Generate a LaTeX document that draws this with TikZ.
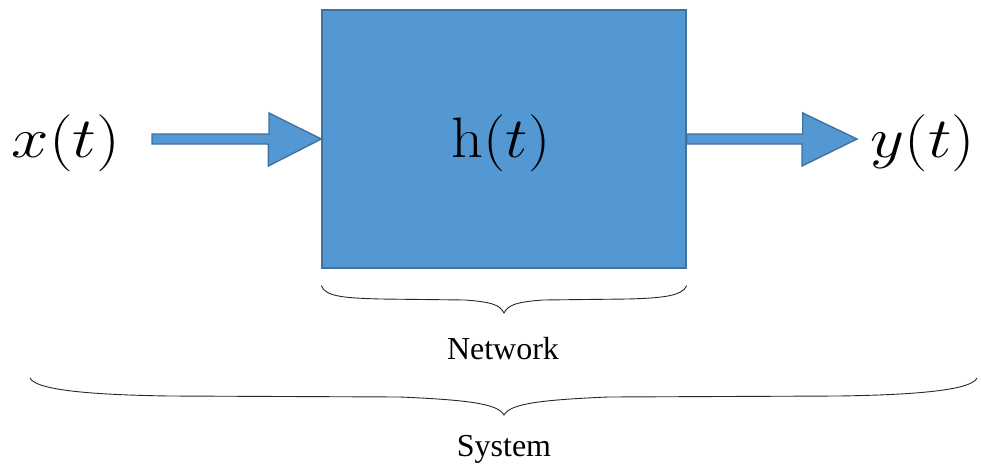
\RequirePackage{fix-cm}
\documentclass[tikz,border=0pt]{standalone}
\usepackage{fontspec}
\usepackage{graphicx}
\newfontfamily\labelfont{Liberation Serif}
\usetikzlibrary{calc}

\definecolor{blockfill}{RGB}{83,152,211}
\definecolor{blockline}{RGB}{65,113,156}
\definecolor{bracecol}{RGB}{40,40,40}

% wide signal names
\newcommand{\widesig}[2]{\scalebox{#1}[1]{#2}}

\tikzset{
  block/.style={draw=blockline, fill=blockfill, line width=1.4pt,
    minimum width=364pt, minimum height=258pt, inner sep=0pt},
  blockarrow/.style={draw=blockline, fill=blockfill, line width=1.4pt, line join=miter},
  signal/.style={anchor=base, inner sep=0pt, font=\fontsize{57}{60}\selectfont},
  bracepath/.style={draw=bracecol, line width=0.9pt},
  caption/.style={anchor=base, inner sep=0pt, font=\labelfont\fontsize{32}{36}\selectfont}
}

\begin{document}
\begin{tikzpicture}[x=1pt, y=-1pt]
  \useasboundingbox (0,0) rectangle (981,463);

  % the network block
  \node[block] (h) at (504,139) {};
  \node[signal] (hlabel) at ($(h.center)+(-3,18)$) {\widesig{1.1}{$\mathrm{h}(t)$}};

  % input and output signals
  \node[signal] (x) at (66,157) {\widesig{1.18}{$x(t)$}};
  \node[signal] (y) at (923,157) {\widesig{1.16}{$y(t)$}};

  % input block arrow, tip on the block's left side
  \coordinate (inTail) at (152,139);
  \draw[blockarrow] (inTail) ++(0,-5) -- ++(117,0) -- ++(0,-21)
    -- (h.west) -- ($(h.west)+(-53,27)$) -- ++(0,-22) -- ($(inTail)+(0,5)$) -- cycle;

  % output block arrow, tail on the block's right side
  \coordinate (outTip) at (857,139);
  \draw[blockarrow] ($(h.east)+(0,-5)$) -- ++(116,0) -- ++(0,-21)
    -- (outTip) -- ($(outTip)+(-55,27)$) -- ++(0,-22) -- ($(h.east)+(0,5)$) -- cycle;

  % brace under the block
  \coordinate (nL) at (h.south west);
  \coordinate (nR) at (h.south east);
  \draw[bracepath] ($(nL)+(0,17)$) .. controls ++(4,11) and (345,298) .. (380,299)
    -- (465,300) .. controls (492,302) and (500,305) .. (504,313)
    coordinate (nTip)
    .. controls (508,305) and (516,302) .. (543,300)
    -- (628,299) .. controls (663,298) and (682,296) .. ($(nR)+(0,17)$);
  \node[caption] (network) at (503,359) {Network};

  % brace under the whole system
  \coordinate (sL) at (30,378);
  \coordinate (sR) at (977,378);
  \draw[bracepath] (sL) .. controls (36,391) and (100,395) .. (170,396)
    -- (400,397) .. controls (470,400) and (498,404) .. (504,415)
    coordinate (sTip)
    .. controls (510,404) and (538,400) .. (608,397)
    -- (838,396) .. controls (908,395) and (971,391) .. (sR);
  \node[caption] (system) at (504,456) {System};
\end{tikzpicture}
\end{document}
